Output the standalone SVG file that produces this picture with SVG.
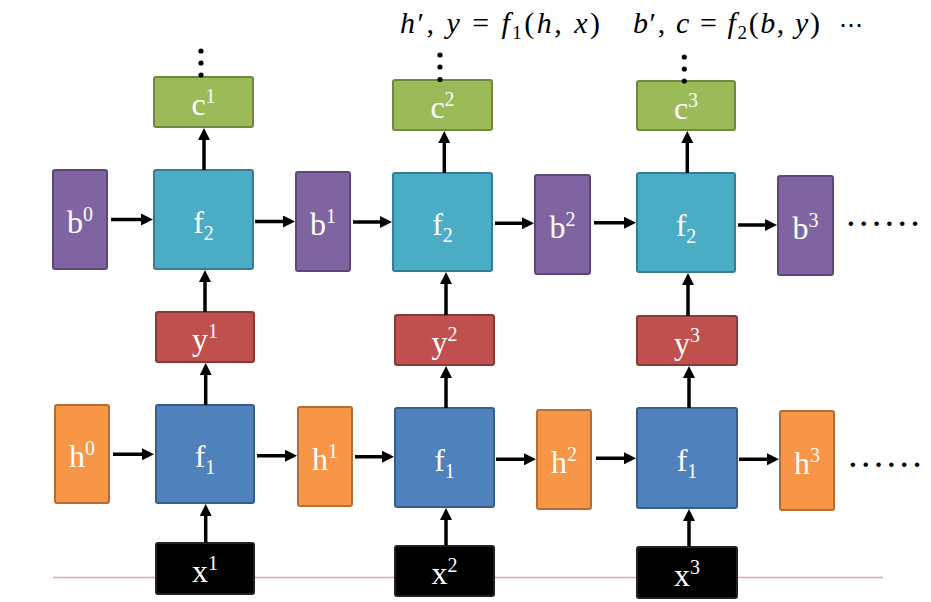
<svg xmlns="http://www.w3.org/2000/svg" width="931" height="602" viewBox="0 0 931 602">
<defs>
<marker id="ah" markerUnits="userSpaceOnUse" markerWidth="13" markerHeight="12" refX="8" refY="6" orient="auto">
<path d="M0,0 L12,6 L0,12 z" fill="#000"/>
</marker>
<style>
.box{stroke-width:2}
.c{fill:#9BBB59;stroke:#71893F}
.f2{fill:#4BACC6;stroke:#357D91}
.b{fill:#8064A2;stroke:#5C4776}
.y{fill:#C0504D;stroke:#8C3836}
.f1{fill:#4F81BD;stroke:#385D8A}
.h{fill:#F79646;stroke:#B66D31}
.x{fill:#000;stroke:#222}
text{font-family:'Liberation Serif','Times New Roman',serif}
text.lbl{font-size:32px;fill:#fff;text-anchor:middle}
.sup{font-size:20px}
.conn line{stroke:#000;stroke-width:3.5;marker-end:url(#ah)}
text.math{font-size:30px;fill:#000}
.it{font-style:italic}
text.hd{font-size:38.4px;fill:#000}
.dot{fill:#000}
</style>
</defs>
<rect width="931" height="602" fill="#fff"/>
<line x1="53" y1="577.5" x2="883" y2="577.5" stroke="#E6A3A3" stroke-width="1.6"/>

<g id="formula">
<text class="math" x="400" y="33" textLength="200" lengthAdjust="spacing"><tspan class="it">h</tspan>′, <tspan class="it">y</tspan> = <tspan class="it">f</tspan><tspan font-size="19" dy="6">1</tspan><tspan dy="-6">(</tspan><tspan class="it">h</tspan>, <tspan class="it">x</tspan>)</text>
<text class="math" x="633" y="33" textLength="187" lengthAdjust="spacing"><tspan class="it">b</tspan>′, <tspan class="it">c</tspan> = <tspan class="it">f</tspan><tspan font-size="19" dy="6">2</tspan><tspan dy="-6">(</tspan><tspan class="it">b</tspan>, <tspan class="it">y</tspan>)</text>
<text x="851" y="33" style="font-family:'DejaVu Sans',sans-serif" font-size="24" text-anchor="middle">⋯</text>
</g>

<g id="c1"><rect class="box c" x="154" y="77" width="99" height="50" rx="2"/><text class="lbl" x="203.5" y="115">c<tspan class="sup" dy="-12">1</tspan></text></g>
<g id="c2"><rect class="box c" x="393" y="80" width="99" height="50" rx="2"/><text class="lbl" x="442.5" y="118">c<tspan class="sup" dy="-12">2</tspan></text></g>
<g id="c3"><rect class="box c" x="637" y="81" width="98" height="49" rx="2"/><text class="lbl" x="686" y="118.5">c<tspan class="sup" dy="-12">3</tspan></text></g>

<g id="f2a"><rect class="box f2" x="154" y="170" width="99" height="99" rx="2"/><text class="lbl" x="203.5" y="232.5">f<tspan class="sup" dy="7">2</tspan></text></g>
<g id="f2b"><rect class="box f2" x="393" y="173" width="99" height="98" rx="2"/><text class="lbl" x="442.5" y="235">f<tspan class="sup" dy="7">2</tspan></text></g>
<g id="f2c"><rect class="box f2" x="637" y="173" width="98" height="99" rx="2"/><text class="lbl" x="686" y="235.5">f<tspan class="sup" dy="7">2</tspan></text></g>

<g id="b0"><rect class="box b" x="53" y="170" width="54" height="99" rx="2"/><text class="lbl" x="80" y="232.5">b<tspan class="sup" dy="-12">0</tspan></text></g>
<g id="b1"><rect class="box b" x="296" y="172" width="54" height="99" rx="2"/><text class="lbl" x="323" y="234.5">b<tspan class="sup" dy="-12">1</tspan></text></g>
<g id="b2"><rect class="box b" x="535" y="175" width="55" height="99" rx="2"/><text class="lbl" x="562.5" y="237.5">b<tspan class="sup" dy="-12">2</tspan></text></g>
<g id="b3"><rect class="box b" x="778" y="176" width="55" height="99" rx="2"/><text class="lbl" x="805.5" y="238.5">b<tspan class="sup" dy="-12">3</tspan></text></g>

<g id="y1"><rect class="box y" x="156" y="312" width="98" height="50" rx="2"/><text class="lbl" x="205" y="350">y<tspan class="sup" dy="-12">1</tspan></text></g>
<g id="y2"><rect class="box y" x="395" y="315" width="99" height="50" rx="2"/><text class="lbl" x="444.5" y="353">y<tspan class="sup" dy="-12">2</tspan></text></g>
<g id="y3"><rect class="box y" x="637" y="316" width="100" height="49" rx="2"/><text class="lbl" x="687" y="353.5">y<tspan class="sup" dy="-12">3</tspan></text></g>

<g id="f1a"><rect class="box f1" x="156" y="405" width="98" height="98" rx="2"/><text class="lbl" x="205" y="467">f<tspan class="sup" dy="7">1</tspan></text></g>
<g id="f1b"><rect class="box f1" x="395" y="408" width="99" height="99" rx="2"/><text class="lbl" x="444.5" y="470.5">f<tspan class="sup" dy="7">1</tspan></text></g>
<g id="f1c"><rect class="box f1" x="637" y="408" width="100" height="100" rx="2"/><text class="lbl" x="687" y="471">f<tspan class="sup" dy="7">1</tspan></text></g>

<g id="h0"><rect class="box h" x="55" y="405" width="54" height="98" rx="2"/><text class="lbl" x="82" y="467">h<tspan class="sup" dy="-12">0</tspan></text></g>
<g id="h1"><rect class="box h" x="298" y="407" width="54" height="99" rx="2"/><text class="lbl" x="325" y="469.5">h<tspan class="sup" dy="-12">1</tspan></text></g>
<g id="h2"><rect class="box h" x="537" y="410" width="54" height="99" rx="2"/><text class="lbl" x="564" y="472.5">h<tspan class="sup" dy="-12">2</tspan></text></g>
<g id="h3"><rect class="box h" x="780" y="411" width="54" height="99" rx="2"/><text class="lbl" x="807" y="473.5">h<tspan class="sup" dy="-12">3</tspan></text></g>

<g id="x1"><rect class="box x" x="156" y="543" width="98" height="51" rx="2"/><text class="lbl" x="205" y="581.5">x<tspan class="sup" dy="-12">1</tspan></text></g>
<g id="x2"><rect class="box x" x="395" y="546" width="99" height="50" rx="2"/><text class="lbl" x="444.5" y="584">x<tspan class="sup" dy="-12">2</tspan></text></g>
<g id="x3"><rect class="box x" x="637" y="547" width="100" height="51" rx="2"/><text class="lbl" x="687" y="585.5">x<tspan class="sup" dy="-12">3</tspan></text></g>

<g id="hdots">
<text class="hd" x="844.6" y="225.5">……</text>
<text class="hd" x="846.6" y="466.5">……</text>
</g>

<g id="vdots" class="dot">
<circle cx="201" cy="51" r="2.6"/><circle cx="201" cy="63" r="2.6"/><circle cx="201" cy="75" r="2.6"/>
<circle cx="440" cy="55" r="2.6"/><circle cx="440" cy="67" r="2.6"/><circle cx="440" cy="79.5" r="2.6"/>
<circle cx="684.3" cy="57" r="2.6"/><circle cx="684.3" cy="69" r="2.6"/><circle cx="684.3" cy="81" r="2.6"/>
</g>

<g id="connectors" class="conn">
<line x1="111" y1="219.5" x2="149" y2="219.5"/>
<line x1="255" y1="221.5" x2="291" y2="221.5"/>
<line x1="353" y1="222" x2="388" y2="222"/>
<line x1="495" y1="223.3" x2="530" y2="223.3"/>
<line x1="594" y1="222.7" x2="632" y2="222.7"/>
<line x1="738" y1="225" x2="773" y2="225"/>
<line x1="113" y1="454.3" x2="150" y2="454.3"/>
<line x1="257" y1="455.7" x2="293" y2="455.7"/>
<line x1="355" y1="456.7" x2="390" y2="456.7"/>
<line x1="496" y1="459.3" x2="532" y2="459.3"/>
<line x1="596" y1="458.3" x2="632" y2="458.3"/>
<line x1="739" y1="459.3" x2="775" y2="459.3"/>
<line x1="204" y1="170" x2="204" y2="132"/>
<line x1="205" y1="312" x2="205" y2="274"/>
<line x1="205.7" y1="405" x2="205.7" y2="367"/>
<line x1="205.7" y1="543" x2="205.7" y2="508"/>
<line x1="444.3" y1="173" x2="444.3" y2="135"/>
<line x1="446" y1="315" x2="446" y2="276"/>
<line x1="446" y1="408" x2="446" y2="370"/>
<line x1="446" y1="546" x2="446" y2="512"/>
<line x1="687.3" y1="173" x2="687.3" y2="135"/>
<line x1="688" y1="316" x2="688" y2="277"/>
<line x1="689" y1="408" x2="689" y2="370"/>
<line x1="689" y1="547" x2="689" y2="513"/>
</g>
</svg>
